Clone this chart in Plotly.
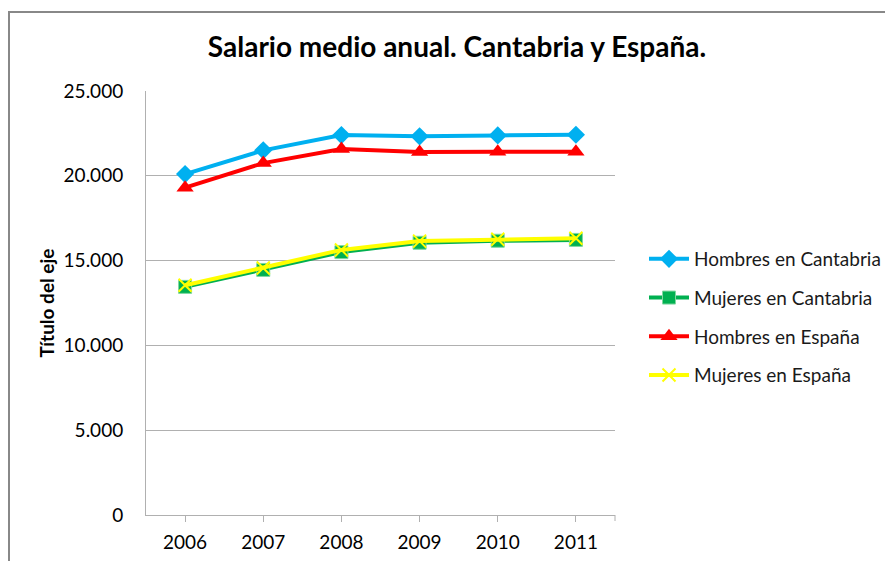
import plotly.graph_objects as go

years = ["2006", "2007", "2008", "2009", "2010", "2011"]
hombres_cantabria = [20100, 21500, 22400, 22330, 22380, 22420]
mujeres_cantabria = [13450, 14450, 15500, 16050, 16170, 16220]
hombres_espana = [19300, 20750, 21580, 21400, 21420, 21420]
mujeres_espana = [13550, 14560, 15630, 16150, 16260, 16320]
y_ticks = [0, 5000, 10000, 15000, 20000, 25000]

FONT = "Lato"
# plot area in figure pixels
L, R, T, B = 138, 607, 83, 507
PW, PH = R - L, B - T

fig = go.Figure()
series = [
    ("Hombres en Cantabria", hombres_cantabria, "#00B0F0", dict(symbol="diamond", size=14, color="#00B0F0")),
    ("Mujeres en Cantabria", mujeres_cantabria, "#00B050", dict(symbol="square", size=13, color="#00B050", line=dict(color="#7fd8a0", width=1))),
    ("Hombres en España", hombres_espana, "#FF0000", dict(symbol="triangle-up", size=15, color="#FF0000")),
    ("Mujeres en España", mujeres_espana, "#FFFF00", dict(symbol="x-thin", size=13, color="#FFFF00", line=dict(color="#FFFF00", width=2))),
]
for i, (name, vals, col, mk) in enumerate(series):
    fig.add_trace(go.Scatter(
        x=years, y=vals, name=name, mode="lines+markers",
        line=dict(color=col, width=4), marker=mk, legendgroup=f"g{i}",
    ))

# outer chart frame
fig.add_shape(type="rect", xref="paper", yref="paper",
              x0=(1 - L) / PW, x1=(910 - L) / PW,
              y0=(B - 600) / PH, y1=(B - 4) / PH,
              line=dict(color="#888888", width=2), layer="below")
# right-end tick mark on x axis
fig.add_shape(type="line", xref="paper", yref="paper",
              x0=1, x1=1, y0=0, y1=-6 / PH,
              line=dict(color="#b0b0b0", width=1))

fig.update_layout(
    width=893, height=561,
    margin=dict(l=L, r=893 - R, t=T, b=561 - B),
    paper_bgcolor="white", plot_bgcolor="white",
    separators=",.",
    title=dict(text="<b>Salario medio anual. Cantabria y España.</b>",
               x=449 / 893, xanchor="center", y=1 - 39 / 561, yanchor="middle",
               font=dict(family=FONT, size=28, color="black")),
    font=dict(family=FONT, size=19, color="black"),
    showlegend=True,
    legend=dict(x=(636 - L) / PW, xanchor="left", y=(B - 232) / PH, yanchor="top",
                traceorder="grouped", tracegroupgap=11,
                font=dict(family=FONT, size=19, color="#1a1a1a"),
                itemwidth=40, bgcolor="rgba(0,0,0,0)"),
    xaxis=dict(type="category", range=[-0.5, 5.5], showgrid=False,
               showline=True, linecolor="#b0b0b0", linewidth=1,
               ticks="outside", ticklen=6, tickcolor="#b0b0b0",
               ticklabelstandoff=4,
               tickfont=dict(family=FONT, size=19, color="black")),
    yaxis=dict(range=[0, 25000], tickvals=y_ticks, tickformat=",.0f",
               showgrid=True, gridcolor="#b0b0b0", gridwidth=1,
               showline=True, linecolor="#b0b0b0", linewidth=1,
               zeroline=False, ticks="", ticklabelstandoff=18,
               tickfont=dict(family=FONT, size=19, color="black"),
               title=dict(text="<b>Título del eje</b>", standoff=3,
                          font=dict(family=FONT, size=19, color="black"))),
)

fig.write_html("out.html")
